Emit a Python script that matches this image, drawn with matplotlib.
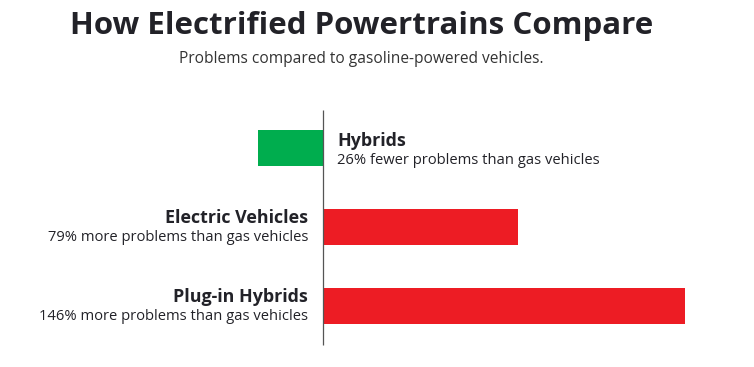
import matplotlib
matplotlib.use("Agg")
import matplotlib.pyplot as plt

categories = ["Hybrids", "Electric Vehicles", "Plug-in Hybrids"]
values = [-26, 79, 146]
descriptions = ["26% fewer problems than gas vehicles",
                "79% more problems than gas vehicles",
                "146% more problems than gas vehicles"]
colors = ["#00AD4E", "#ED1C24", "#ED1C24"]
title = "How Electrified Powertrains Compare"
subtitle = "Problems compared to gasoline-powered vehicles."

W, H = 754, 367
fig = plt.figure(figsize=(W / 100, H / 100), dpi=100)
ax = fig.add_axes([0, 0, 1, 1])

px_per_unit = 2.48
x0_px = 322.5
step = 79
y0_px = 148
ax.set_xlim(-x0_px / px_per_unit, (W - x0_px) / px_per_unit)
ax.set_ylim((H - y0_px) / step, -y0_px / step)
ax.axis("off")

ypos = list(range(len(categories)))
ax.barh(ypos, values, height=36 / step, color=colors, zorder=2)
ax.vlines(0, (110 - y0_px) / step, (345 - y0_px) / step, color="#555555", lw=0.9, zorder=3)

txt = "#222228"
fam = ["Open Sans", "DejaVu Sans"]
for y, cat, desc, v in zip(ypos, categories, descriptions, values):
    if v < 0:
        xt = 14.5 / px_per_unit
        ha = "left"
        dl, dd = -2, 16
    else:
        xt = -14.5 / px_per_unit
        ha = "right"
        dl, dd = -4, 14
    ax.text(xt, y + dl / step, cat, ha=ha, va="baseline", fontsize=12.9, fontweight="bold",
            color=txt, family=fam)
    ax.text(xt, y + dd / step, desc, ha=ha, va="baseline", fontsize=10.6,
            color=txt, family=fam)

fig.text(0.479, 1 - 34 / H, title, ha="center", va="baseline", fontsize=22.5,
         fontweight="bold", color=txt, family=fam)
fig.text(0.479, 1 - 63 / H, subtitle, ha="center", va="baseline", fontsize=11.2,
         color="#333333", family=fam)

fig.savefig("out.png", dpi=100, facecolor="white")
